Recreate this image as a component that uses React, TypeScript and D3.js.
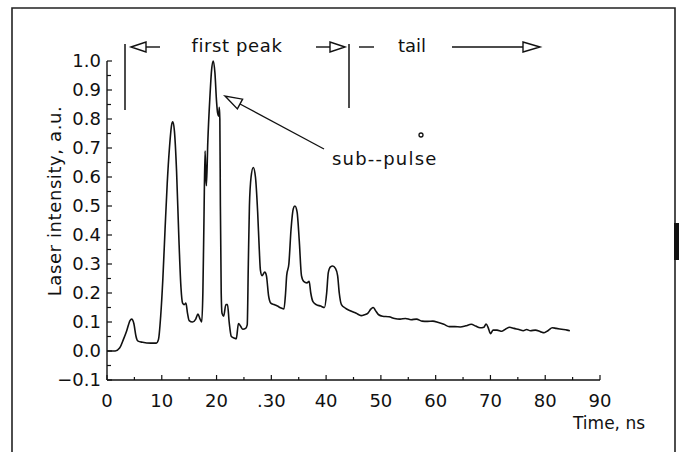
import React from "react";
import * as d3 from "d3";

const timeNs = [0, 1.5, 2.3, 3.0, 3.6, 4.2, 4.5, 4.9, 5.3, 5.6, 6.5, 8.0, 9.0, 9.4, 9.8, 10.2, 10.6, 11.0, 11.4, 11.8, 12.0, 12.3, 12.7, 13.1, 13.5, 13.8, 14.1, 14.4, 14.7, 15.0, 15.6, 16.2, 16.6, 17.0, 17.3, 17.5, 17.7, 17.9, 18.05, 18.15, 18.4, 18.8, 19.1, 19.4, 19.7, 20.0, 20.2, 20.4, 20.5, 20.6, 20.7, 20.85, 21.0, 21.3, 21.7, 22.0, 22.3, 22.7, 23.2, 23.6, 24.0, 24.4, 24.8, 25.3, 25.6, 25.8, 26.0, 26.3, 26.7, 27.1, 27.5, 27.8, 28.0, 28.3, 28.8, 29.1, 29.5, 29.9, 30.5, 31.1, 31.8, 32.3, 32.6, 32.8, 33.2, 33.6, 34.0, 34.3, 34.7, 35.1, 35.5, 35.9, 36.5, 36.9, 37.2, 37.6, 38.2, 39.0, 39.7, 40.1, 40.4, 40.8, 41.2, 41.7, 42.1, 42.4, 42.8, 43.5, 44.5, 45.5, 46.4, 47.0, 47.6, 48.2, 48.6, 49.0, 49.6, 50.3, 51.5, 52.5, 53.5, 54.5, 55.5, 56.5, 57.5, 58.5, 59.5, 60.5, 61.5, 62.5, 63.5, 64.5, 65.5, 66.5, 67.3, 68.1, 68.8, 69.2, 69.6, 70.0, 70.5, 71.2, 72.1, 72.8, 73.5, 74.3, 75.2, 76.0, 76.6, 77.3, 78.2, 79.2, 79.8, 80.5, 81.3, 82.0, 83.0, 84.0, 84.5];
const intensity = [0.0, 0.0, 0.01, 0.04, 0.07, 0.105, 0.11, 0.095, 0.05, 0.035, 0.03, 0.027, 0.027, 0.04, 0.12, 0.25, 0.42, 0.58, 0.70, 0.78, 0.79, 0.76, 0.62, 0.40, 0.22, 0.165, 0.16, 0.165, 0.13, 0.105, 0.10, 0.11, 0.127, 0.11, 0.10, 0.2, 0.45, 0.69, 0.60, 0.57, 0.72, 0.88, 0.97, 1.0, 0.96, 0.86, 0.82, 0.81, 0.84, 0.80, 0.5, 0.2, 0.13, 0.12, 0.16, 0.16, 0.1, 0.05, 0.045, 0.042, 0.095, 0.085, 0.075, 0.078, 0.09, 0.3, 0.5, 0.6, 0.633, 0.6, 0.48, 0.35, 0.28, 0.26, 0.272, 0.26, 0.19, 0.165, 0.16, 0.155, 0.148, 0.145, 0.2, 0.26, 0.3, 0.42, 0.49, 0.5, 0.48, 0.38, 0.26, 0.24, 0.235, 0.24, 0.2, 0.17, 0.16, 0.155, 0.15, 0.2, 0.27, 0.29, 0.293, 0.285, 0.26, 0.2, 0.16, 0.148, 0.138, 0.13, 0.122, 0.125, 0.13, 0.145, 0.15, 0.14, 0.125, 0.12, 0.118, 0.112, 0.11, 0.112, 0.108, 0.11, 0.103, 0.102, 0.103, 0.098, 0.092, 0.084, 0.084, 0.083, 0.087, 0.092, 0.086, 0.08, 0.082, 0.093, 0.08, 0.06, 0.072, 0.072, 0.068, 0.076, 0.082, 0.078, 0.074, 0.07, 0.074, 0.07, 0.072, 0.066, 0.063, 0.07, 0.08, 0.078, 0.075, 0.072, 0.07];

const xTickValues = [0, 10, 20, 30, 40, 50, 60, 70, 80, 90];
const yTickValues = [-0.1, 0.0, 0.1, 0.2, 0.3, 0.4, 0.5, 0.6, 0.7, 0.8, 0.9, 1.0];
const xTickLabels = ["0", "10", "20", ".30", "40", "50", "60", "70", "80", "90"];
const yTickLabels = ["\u22120.1", "0.0", "0.1", "0.2", "0.3", "0.4", "0.5", "0.6", "0.7", "0.8", "0.9", "1.0"];

const FONT = "'DejaVu Sans', sans-serif";

export default function App() {
  const x = d3.scaleLinear().domain([0, 90]).range([107, 600]);
  const y = d3.scaleLinear().domain([0, 1]).range([351, 61]);
  const pts: [number, number][] = timeNs.map((t, i) => [t, intensity[i]]);
  const line = d3
    .line<[number, number]>()
    .x((d) => x(d[0]))
    .y((d) => y(d[1]))
    .curve(d3.curveMonotoneX);

  const xMinor = d3.range(0, 91, 5);
  const yMinor = d3.range(-0.1, 1.001, 0.05);

  const arrowHead = (tipX: number, tipY: number, dir: number, len = 15, half = 5) => {
    const bx = tipX - dir * len;
    return `M${tipX},${tipY} L${bx},${tipY - half} L${bx},${tipY + half} Z`;
  };

  const tip = [225, 96];
  const tail = [324, 149];
  const ang = Math.atan2(tail[1] - tip[1], tail[0] - tip[0]);
  const hl = 17, hw = 5.5;
  const bx = tip[0] + hl * Math.cos(ang);
  const by = tip[1] + hl * Math.sin(ang);
  const px = -Math.sin(ang) * hw, py = Math.cos(ang) * hw;
  const subHead = `M${tip[0]},${tip[1]} L${bx + px},${by + py} L${bx - px},${by - py} Z`;

  return (
    <div style={{ position: "absolute", left: 0, top: 0 }}>
      <svg width={681} height={452} style={{ display: "block", background: "#fff" }}>
        <path d="M12,460 L12,8 L675,8 L675,460" fill="none" stroke="#222" strokeWidth={1.6} />
        <rect x={674} y={223} width={5} height={37} fill="#111" />

        <line x1={x(0)} x2={x(0)} y1={y(-0.1)} y2={y(1)} stroke="#111" strokeWidth={1.4} />
        <line x1={x(0)} x2={x(90)} y1={y(-0.1)} y2={y(-0.1)} stroke="#111" strokeWidth={1.4} />
        {yMinor.map((v, i) => (
          <line key={"yt" + i} x1={x(0)} x2={x(0) + (i % 2 === 0 ? 5 : 4)} y1={y(v)} y2={y(v)} stroke="#111" strokeWidth={1.2} />
        ))}
        {xMinor.map((t, i) => (
          <line key={"xt" + i} x1={x(t)} x2={x(t)} y1={y(-0.1)} y2={y(-0.1) - (i % 2 === 0 ? 5 : 3)} stroke="#111" strokeWidth={1.2} />
        ))}
        {yTickValues.map((v, i) => (
          <text key={"yl" + i} x={101} y={y(v)} dy="0.36em" textAnchor="end" fontFamily={FONT} fontSize={18} fill="#111">
            {yTickLabels[i]}
          </text>
        ))}
        {xTickValues.map((t, i) => (
          <text key={"xl" + i} x={x(t)} y={407} textAnchor="middle" fontFamily={FONT} fontSize={18} fill="#111">
            {xTickLabels[i]}
          </text>
        ))}
        <text x={573} y={429} fontFamily={FONT} fontSize={17} fill="#111">Time, ns</text>
        <text transform="translate(61,201) rotate(-90)" textAnchor="middle" fontFamily={FONT} fontSize={18} letterSpacing={0.6} fill="#111">
          Laser intensity, a.u.
        </text>

        <path d={line(pts) || ""} fill="none" stroke="#111" strokeWidth={1.6} strokeLinejoin="round" />

        <line x1={125} x2={125} y1={44} y2={110} stroke="#111" strokeWidth={1.5} />
        <path d={arrowHead(131, 47, -1)} fill="#fff" stroke="#111" strokeWidth={1.4} />
        <line x1={146} x2={160} y1={47} y2={47} stroke="#111" strokeWidth={1.4} />
        <text x={237} y={52} textAnchor="middle" fontFamily={FONT} fontSize={18} letterSpacing={0.6} fill="#111">first peak</text>
        <line x1={316} x2={330} y1={47} y2={47} stroke="#111" strokeWidth={1.4} />
        <path d={arrowHead(345, 47, 1)} fill="#fff" stroke="#111" strokeWidth={1.4} />
        <line x1={349} x2={349} y1={44} y2={108} stroke="#111" strokeWidth={1.5} />
        <line x1={359} x2={374} y1={47} y2={47} stroke="#111" strokeWidth={1.4} />
        <text x={398} y={52} fontFamily={FONT} fontSize={18} fill="#111">tail</text>
        <line x1={452} x2={523} y1={47} y2={47} stroke="#111" strokeWidth={1.4} />
        <path d={arrowHead(540, 47, 1, 17)} fill="#fff" stroke="#111" strokeWidth={1.4} />

        <line x1={bx} y1={by} x2={tail[0]} y2={tail[1]} stroke="#111" strokeWidth={1.3} />
        <path d={subHead} fill="#fff" stroke="#111" strokeWidth={1.4} />
        <text x={332} y={165} fontFamily={FONT} fontSize={18} letterSpacing={1.2} fill="#111">sub--pulse</text>
        <circle cx={421} cy={135} r={2} fill="none" stroke="#111" strokeWidth={1.3} />
      </svg>
    </div>
  );
}
